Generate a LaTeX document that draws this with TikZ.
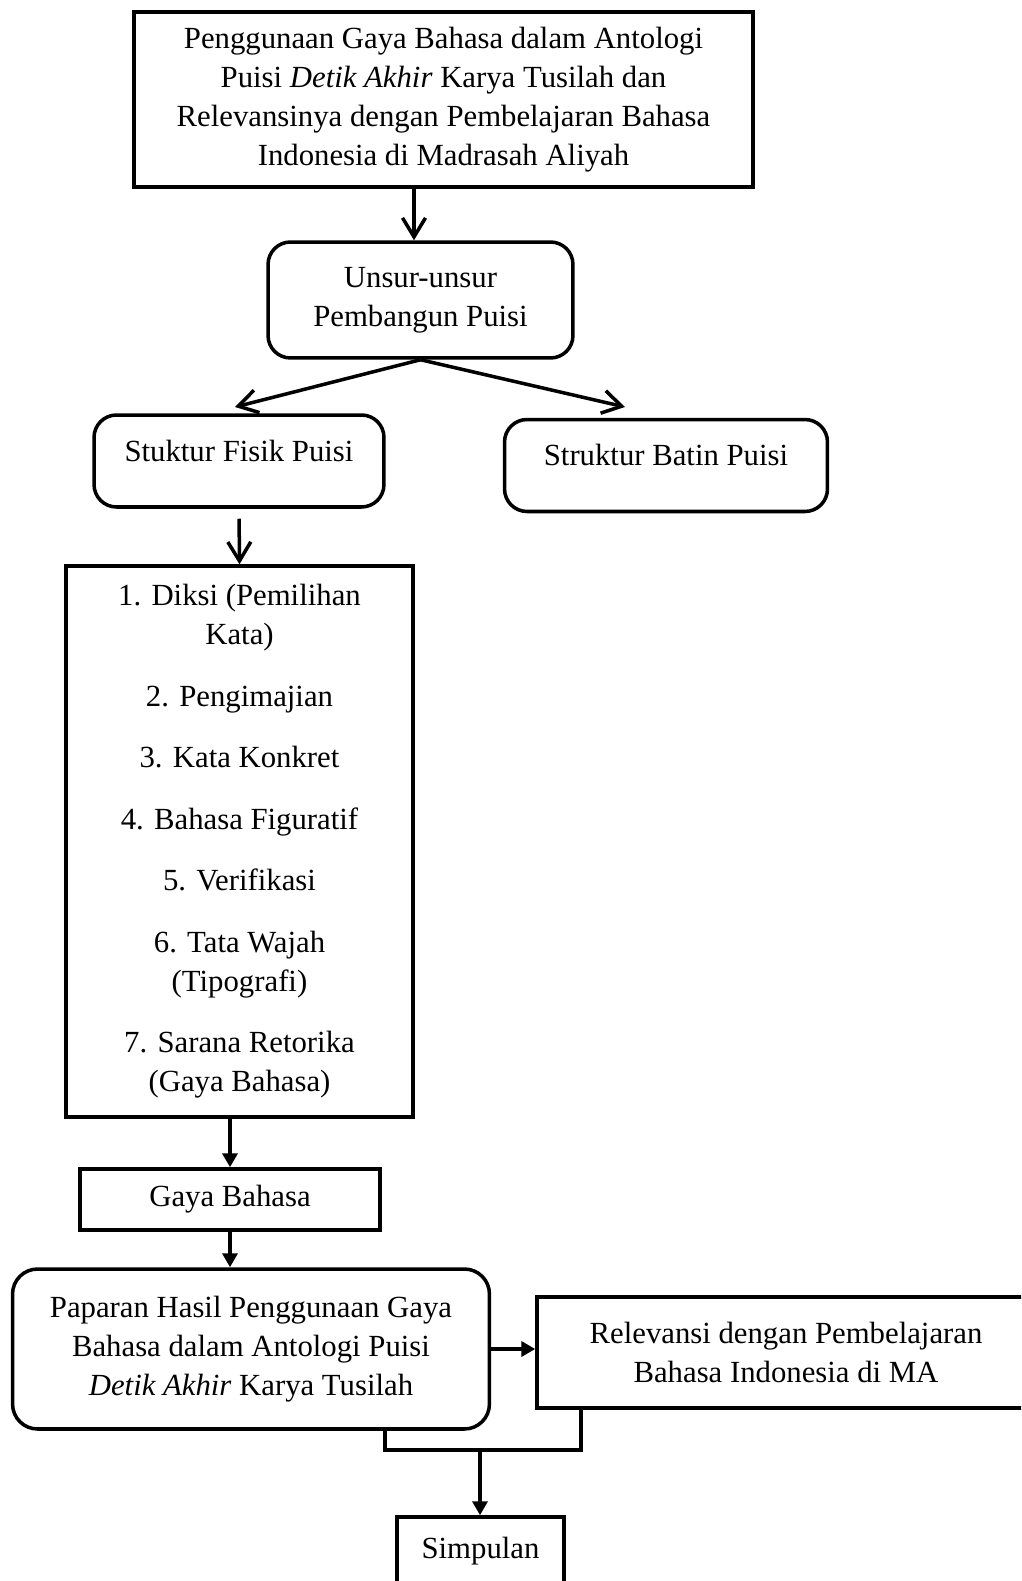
\documentclass[tikz,border=0pt]{standalone}
\usepackage{fontspec}
\setmainfont{Liberation Serif}
\usetikzlibrary{arrows.meta}

\begin{document}
\begin{tikzpicture}[x=0.02cm,y=-0.02cm,
    kotak/.style={draw,line width=2pt,align=center,inner sep=0pt,font=\fontsize{17.5}{22.2}\selectfont},
    bulat/.style={kotak,rounded corners=0.45cm},
    struktur/.style={bulat,text height=0.92cm,text depth=0.92cm,inner ysep=0pt},
    buka/.style={line width=2pt,-{Straight Barb[length=0.38cm,width=0.46cm]}},
    isi/.style={line width=2pt,-{Triangle[length=0.28cm,width=0.3cm]}}]
  \clip (0,0) rectangle (1021,1581);
  \node[kotak,minimum width=12.38cm,minimum height=3.5cm] (judul) at (443.5,99.5)
    {Penggunaan Gaya Bahasa dalam Antologi\\Puisi \textit{Detik Akhir} Karya Tusilah dan\\Relevansinya dengan Pembelajaran Bahasa\\Indonesia di Madrasah Aliyah};
  \node[bulat,minimum width=6.1cm,minimum height=2.32cm] (unsur) at (420.5,300) {Unsur-unsur\\Pembangun Puisi};
  \node[struktur,minimum width=5.8cm] (fisik) at (239,461) {Stuktur Fisik Puisi};
  \node[struktur,minimum width=6.46cm] (batin) at (666,465.5) {Struktur Batin Puisi};
  \node[kotak,minimum width=6.94cm,minimum height=11.02cm] (daftar) at (239.5,841.5)
    {1. Diksi (Pemilihan\\Kata)\\[0.45cm]2. Pengimajian\\[0.45cm]3. Kata Konkret\\[0.45cm]4. Bahasa Figuratif\\[0.45cm]5. Verifikasi\\[0.45cm]6. Tata Wajah\\(Tipografi)\\[0.45cm]7. Sarana Retorika\\(Gaya Bahasa)};
  \node[kotak,minimum width=6cm,minimum height=1.22cm] (gaya) at (230,1199.5) {Gaya Bahasa};
  \node[bulat,rounded corners=0.5cm,minimum width=9.54cm,minimum height=3.2cm] (paparan) at (251,1349)
    {Paparan Hasil Penggunaan Gaya\\Bahasa dalam Antologi Puisi\\\textit{Detik Akhir} Karya Tusilah};
  \node[kotak,minimum width=9.96cm,minimum height=2.22cm] (relevansi) at (786,1352.5)
    {Relevansi dengan Pembelajaran\\Bahasa Indonesia di MA};
  \node[kotak,minimum width=3.34cm,minimum height=1.36cm] (simpulan) at (480.5,1551) {Simpulan};
  % titik bantu
  \coordinate (p1) at (414,0);
  \coordinate (ujungA) at (235,407);
  \coordinate (ujungB) at (625,407);
  \coordinate (kiri) at (385,1450);
  \coordinate (kanan) at (581,1450);
  \coordinate (tengah) at (480,1450);
  % panah
  \draw[buka] (judul.south -| p1) -- (unsur.north -| p1);
  \draw[buka] (unsur.south) -- (ujungA);
  \draw[buka] (unsur.south) -- (ujungB);
  \draw[buka,shorten <=0.2cm] (fisik.south) -- (daftar.north);
  \draw[isi] (daftar.south -| gaya.north) -- (gaya.north);
  \draw[isi] (gaya.south) -- (paparan.north -| gaya.south);
  \draw[isi] (paparan.east) -- (relevansi.west |- paparan.east);
  \draw[line width=2pt] (paparan.south -| kiri) -- (kiri) -- (kanan) -- (relevansi.south -| kanan);
  \draw[isi] (tengah) -- (simpulan.north -| tengah);
\end{tikzpicture}
\end{document}
